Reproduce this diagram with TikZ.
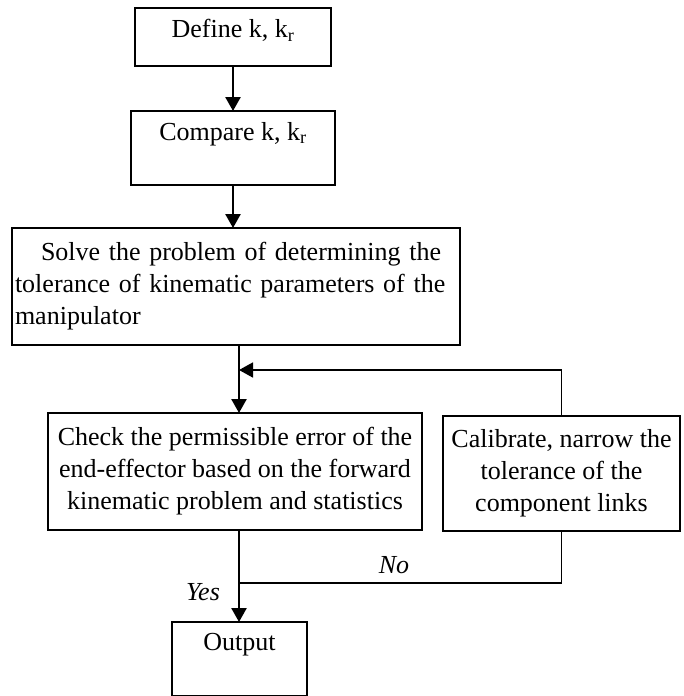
\documentclass[tikz,border=0pt]{standalone}
\usepackage{fontspec}
\setmainfont{Liberation Serif}
\usetikzlibrary{arrows.meta,positioning,calc}

\begin{document}
\begin{tikzpicture}[x=1pt,y=-1pt,>={Triangle[width=15pt,length=14pt]},
    font=\fontsize{26}{32}\selectfont]
        \tikzstyle{box} = [rectangle, draw, line width=1.5pt, inner xsep=2pt, inner ysep=0pt,
                           outer sep=0pt, align=center]
        \tikzstyle{headline} = [anchor=north, yshift=-11pt, inner sep=0pt]
        \tikzstyle{flow} = [->, line width=2.5pt]
        \tikzstyle{backline} = [line width=1.7pt]
        \tikzstyle{answer} = [font=\fontsize{26}{32}\selectfont\itshape, inner sep=0pt]

        \useasboundingbox (0,0) rectangle (683,696);

        % Nodes
        \node[box, minimum width=196pt, minimum height=58pt, anchor=north,
              label={[headline]north:{Define k, k\textsubscript{r}}}] (def) at (233,8) {};
        \node[box, minimum width=204pt, minimum height=74pt, below=45pt of def,
              label={[headline]north:{Compare k, k\textsubscript{r}}}] (cmp) {};
        \node[box, minimum width=448pt, minimum height=117pt, text width=442pt, align=left,
              below=43pt of cmp, xshift=3pt] (solve)
              {\hspace*{26pt}Solve the problem of determining the\\
               tolerance of kinematic parameters of the\\
               manipulator};
        \node[box, minimum width=374pt, minimum height=117pt, below=68pt of solve, xshift=-1pt] (check)
              {Check the permissible error of the\\
               end-effector based on the forward\\
               kinematic problem and statistics};
        \node[box, minimum width=237pt, minimum height=115pt, right=21pt of check, yshift=-2pt] (calib)
              {Calibrate, narrow the\\ tolerance of the\\ component links};
        \node[box, minimum width=135pt, minimum height=74pt, below=92pt of check, xshift=4.5pt,
              label={[headline]north:{Output}}] (out) {};

        % Junctions
        \coordinate (fb) at (239,370);
        \coordinate (merge) at (239,583);

        % Edges
        \draw[flow] (def.south) -- (def.south |- cmp.north);
        \draw[flow] (cmp.south) -- (cmp.south |- solve.north);
        \draw[flow] (fb |- solve.south) -- (fb |- check.north);
        \draw[backline, ->] (calib.north) |- (fb);
        \draw[flow] (fb |- check.south) -- (fb |- out.north);
        \draw[backline] (calib.south) |- (merge);

        % Labels
        \node[answer] (no) at (394,565) {No};
        \node[answer] (yes) at (203,592) {Yes};
    \end{tikzpicture}
\end{document}
